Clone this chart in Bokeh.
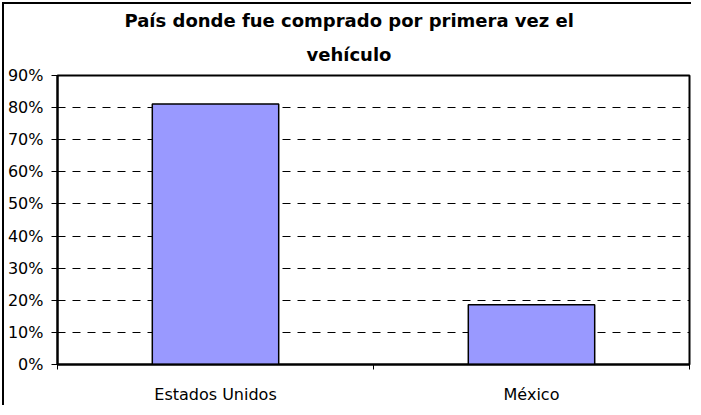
from bokeh.plotting import figure
from bokeh.models import FixedTicker, Range1d, Title
from bokeh.embed import file_html
from bokeh.resources import INLINE

# ---- data ----
title_lines = ["País donde fue comprado por primera vez el", "vehículo"]
categories = ["Estados Unidos", "México"]
shares = [81.1, 18.6]
y_ticks = [0, 10, 20, 30, 40, 50, 60, 70, 80, 90]
y_tick_labels = ["0%", "10%", "20%", "30%", "40%", "50%", "60%", "70%", "80%", "90%"]

FONT = "DejaVu Sans"
bar_x = [i + 0.5 for i in range(len(categories))]
bounds = [float(i) for i in range(len(categories) + 1)]

p = figure(width=689, height=403, output_backend="svg", toolbar_location=None,
           x_range=Range1d(0, len(categories)), y_range=Range1d(0, max(y_ticks)),
           min_border_left=52, min_border_right=4, min_border_top=71, min_border_bottom=43)
# chart-area border: only its top and left edges fall inside the picture
p.styles = {"margin-left": "2px", "margin-top": "2px",
            "border-left": "2px solid black", "border-top": "2px solid black"}
p.background_fill_color = "white"
p.border_fill_color = "white"
p.outline_line_color = "black"
p.outline_line_width = 2

# bars
p.vbar(x=bar_x, top=shares, width=0.4, fill_color="#9999FF",
       line_color="black", line_width=1.5)

# y axis
ya = p.yaxis[0]
ya.ticker = FixedTicker(ticks=y_ticks)
ya.major_label_overrides = {t: lab for t, lab in zip(y_ticks, y_tick_labels)}
ya.major_tick_in = 0
ya.major_tick_out = 6
ya.minor_tick_line_color = None
ya.major_label_standoff = 8
ya.major_label_text_font = FONT
ya.major_label_text_font_size = "16px"
ya.major_label_text_color = "black"
ya.axis_line_color = "black"
ya.axis_line_width = 2
ya.major_tick_line_color = "black"

# x axis
xa = p.xaxis[0]
xa.ticker = FixedTicker(ticks=bar_x, minor_ticks=bounds)
xa.major_label_overrides = {x: c for x, c in zip(bar_x, categories)}
xa.major_tick_line_color = None
xa.major_tick_in = 0
xa.major_tick_out = 5
xa.minor_tick_in = 0
xa.minor_tick_out = 5
xa.minor_tick_line_color = "black"
xa.major_label_standoff = 15
xa.major_label_text_font = FONT
xa.major_label_text_font_size = "16px"
xa.major_label_text_color = "black"
xa.axis_line_color = "black"
xa.axis_line_width = 2

# grid
p.xgrid.grid_line_color = None
p.ygrid.ticker = FixedTicker(ticks=y_ticks)
p.ygrid.grid_line_color = "black"
p.ygrid.grid_line_dash = "8 7"
p.ygrid.grid_line_width = 1

# title: left-aligned with offsets so both lines centre on the chart area
title_offsets = [67, 249]
title_standoffs = [0, 22]
for line, off, so in reversed(list(zip(title_lines, title_offsets, title_standoffs))):
    p.add_layout(Title(text=line, align="left", offset=off,
                       text_font=FONT, text_font_style="bold",
                       text_font_size="18px", text_color="black",
                       standoff=so), "above")

open("out.html", "w").write(file_html(p, INLINE))
